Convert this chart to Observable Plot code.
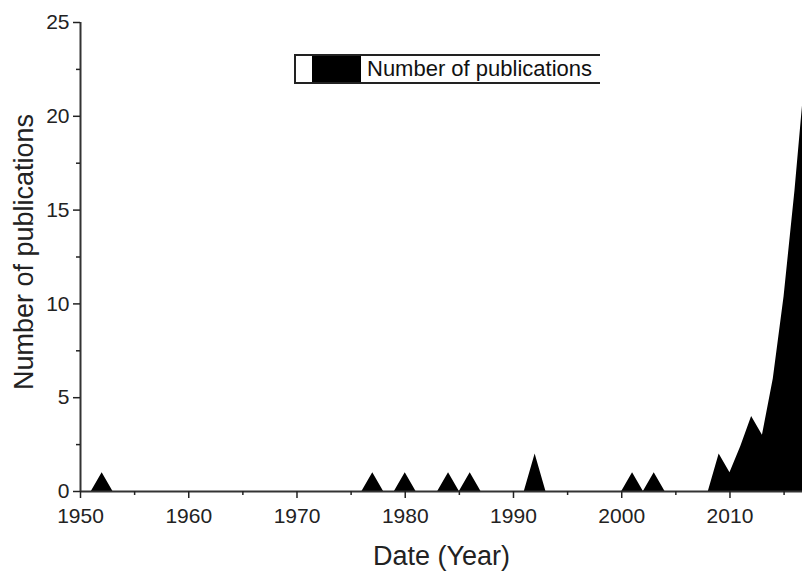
<!DOCTYPE html>
<html>
<head>
<meta charset="utf-8">
<script src="https://cdn.jsdelivr.net/npm/d3@7"></script>
<script src="https://cdn.jsdelivr.net/npm/@observablehq/plot@0.6"></script>
<style>
  html, body { margin: 0; padding: 0; background: #fff; }
  #wrap { position: relative; width: 802px; height: 574px; font-family: "Liberation Sans", Arial, sans-serif; }
  #legend { position: absolute; left: 294px; top: 54px; width: 304px; height: 26px;
    border-top: 2px solid #222; border-bottom: 2px solid #222; border-left: 2px solid #222;
    display: flex; align-items: center; box-sizing: content-box; }
  #legend .w { width: 16px; height: 100%; background: #fff; }
  #legend .b { width: 49px; height: 100%; background: #000; }
  #legend .t { margin-left: 6px; font-size: 22px; color: #111; white-space: nowrap; }
</style>
</head>
<body>
<div id="wrap"></div>
<script>
const years = [
  1950,1951,1952,1953,1954,1955,1956,1957,1958,1959,
  1960,1961,1962,1963,1964,1965,1966,1967,1968,1969,
  1970,1971,1972,1973,1974,1975,1976,1977,1978,1979,
  1980,1981,1982,1983,1984,1985,1986,1987,1988,1989,
  1990,1991,1992,1993,1994,1995,1996,1997,1998,1999,
  2000,2001,2002,2003,2004,2005,2006,2007,2008,2009,
  2010,2011,2012,2013,2014,2015,2016,2017
];
const publications = [
  0,0,1,0,0,0,0,0,0,0,
  0,0,0,0,0,0,0,0,0,0,
  0,0,0,0,0,0,0,1,0,0,
  1,0,0,0,1,0,1,0,0,0,
  0,0,2,0,0,0,0,0,0,0,
  0,1,0,1,0,0,0,0,0,2,
  1,2.4,4,3,6,10.4,16,22.5
];
const xMajorTicks = [1950,1960,1970,1980,1990,2000,2010];
const xMinorTicks = [1955,1965,1975,1985,1995,2005,2015];
const yMajorTicks = [0,5,10,15,20,25];
const yMinorTicks = [2.5,7.5,12.5,17.5,22.5];

const data = years.map((y, i) => ({year: y, count: publications[i]}));

const font = "'Liberation Sans', Arial, sans-serif";

const chart = Plot.plot({
  width: 802,
  height: 574,
  marginLeft: 80,
  marginRight: 0,
  marginTop: 22,
  marginBottom: 83,
  style: {fontFamily: font, background: "#fff", color: "#222"},
  x: {domain: [1950, 2016.7], label: null},
  y: {domain: [0, 25], label: null},
  marks: [
    Plot.areaY(data, {x: "year", y: "count", fill: "#000", clip: true}),
    Plot.ruleY([0], {stroke: "#333", strokeWidth: 2}),
    Plot.ruleX([1950], {stroke: "#333", strokeWidth: 2}),
    Plot.axisX({ticks: xMajorTicks, tickSize: 7, tickPadding: 10, fontSize: 21, tickFormat: d => String(d), strokeWidth: 1.5, label: null}),
    Plot.axisX({ticks: xMinorTicks, tickSize: 4, tickFormat: () => "", strokeWidth: 1.5, label: null}),
    Plot.axisY({ticks: yMajorTicks, tickSize: 7, tickPadding: 4, fontSize: 21, strokeWidth: 1.5, label: null}),
    Plot.axisY({ticks: yMinorTicks, tickSize: 4, tickFormat: () => "", strokeWidth: 1.5, label: null}),
    Plot.text(["Date (Year)"], {frameAnchor: "bottom", dy: 65, fontSize: 27, lineAnchor: "middle", fill: "#222"}),
    Plot.text(["Number of publications"], {frameAnchor: "left", dx: -56, dy: -5, rotate: -90, textAnchor: "middle", lineAnchor: "middle", fontSize: 27, fill: "#222"})
  ]
});

const wrap = document.getElementById("wrap");
wrap.appendChild(chart);
const legend = document.createElement("div");
legend.id = "legend";
legend.innerHTML = '<div class="w"></div><div class="b"></div><div class="t">Number of publications</div>';
wrap.appendChild(legend);
</script>
</body>
</html>
